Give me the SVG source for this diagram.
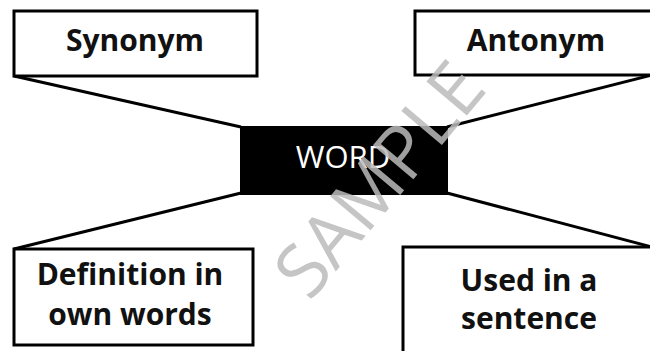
<svg xmlns="http://www.w3.org/2000/svg" width="650" height="351" viewBox="0 0 650 351">
<style>
.box{fill:#fff;stroke:#000;stroke-width:3}
.lbl{font-family:"Open Sans","Noto Sans",sans-serif;font-weight:bold;font-size:30px;fill:#111;text-anchor:middle}
.conn{stroke:#000;stroke-width:3;fill:none}
</style>
<rect width="650" height="351" fill="#fff"/>
<g id="connectors">
<line class="conn" x1="14" y1="76" x2="241" y2="127"/>
<line class="conn" x1="652" y1="75" x2="447" y2="127"/>
<line class="conn" x1="14" y1="249" x2="241" y2="193"/>
<line class="conn" x1="652" y1="247" x2="447" y2="193"/>
</g>
<g id="synonym">
<rect class="box" x="14" y="11" width="243" height="65"/>
<text class="lbl" x="135" y="51">Synonym</text>
</g>
<g id="antonym">
<rect class="box" x="415" y="11" width="240" height="64"/>
<text class="lbl" x="536" y="51">Antonym</text>
</g>
<g id="word">
<rect x="240" y="126" width="208" height="69" fill="#000"/>
<text x="343" y="168" font-family="Open Sans, Noto Sans, sans-serif" font-size="31" fill="#fff" text-anchor="middle">WORD</text>
</g>
<g id="definition">
<rect class="box" x="14" y="249" width="239" height="96"/>
<text class="lbl" x="130" y="285">Definition in</text>
<text class="lbl" x="130" y="325">own words</text>
</g>
<g id="sentence">
<rect class="box" x="403" y="247" width="252" height="110"/>
<text class="lbl" x="529" y="291">Used in a</text>
<text class="lbl" x="529" y="329">sentence</text>
</g>
<text x="380" y="205" font-family="Open Sans, Noto Sans, sans-serif" font-size="74" fill="#bbb" fill-opacity="0.85" text-anchor="middle" transform="rotate(-50 380 180)">SAMPLE</text>
</svg>
